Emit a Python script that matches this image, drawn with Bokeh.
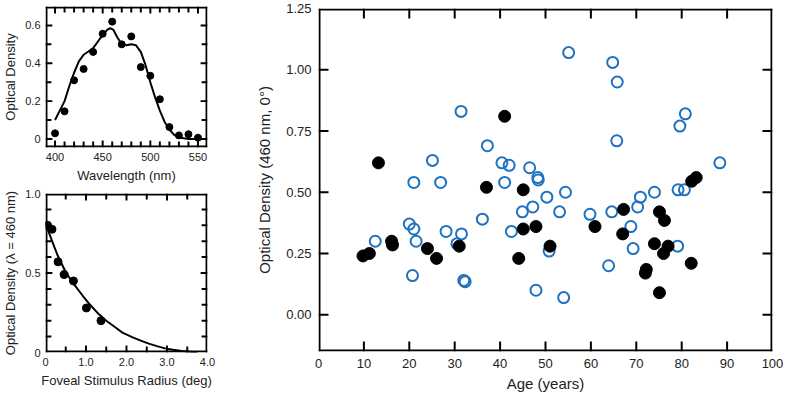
from bokeh.plotting import figure
from bokeh.layouts import row, column
from bokeh.models import FixedTicker, NumeralTickFormatter, Range1d
from bokeh.embed import file_html
from bokeh.resources import INLINE

# ---------------- data ----------------
# Panel A: spectral absorption
wl_nm = [400, 410, 420, 430, 440, 450, 460, 470, 480, 490, 500, 510, 520, 530, 540, 550]
wl_od = [0.03, 0.146, 0.31, 0.37, 0.46, 0.556, 0.62, 0.50, 0.542, 0.38, 0.334, 0.21, 0.063, 0.019, 0.025, 0.007]
fit_nm = [400, 405, 410, 415, 420, 425, 430, 435, 440, 445, 450, 455, 458, 461, 465, 470, 475, 480, 485, 490, 495, 500, 505, 510, 515, 520, 525, 530, 540, 550]
fit_od = [0.10, 0.15, 0.20, 0.28, 0.35, 0.41, 0.445, 0.462, 0.48, 0.515, 0.55, 0.578, 0.585, 0.578, 0.54, 0.50, 0.495, 0.50, 0.495, 0.46, 0.39, 0.30, 0.22, 0.15, 0.09, 0.05, 0.022, 0.008, 0.0, 0.0]

# Panel B: spatial profile
rad_deg = [0.05, 0.16, 0.31, 0.46, 0.69, 1.01, 1.37]
rad_od = [0.80, 0.775, 0.57, 0.49, 0.45, 0.28, 0.20]
rfit_deg = [0.0, 0.09, 0.18, 0.3, 0.51, 0.7, 0.91, 1.1, 1.32, 1.5, 1.73, 1.9, 2.14, 2.35, 2.55, 2.75, 2.95, 3.15, 3.36, 3.75]
rfit_od = [0.82, 0.75, 0.69, 0.61, 0.50, 0.43, 0.36, 0.30, 0.24, 0.20, 0.157, 0.125, 0.097, 0.075, 0.056, 0.04, 0.026, 0.017, 0.01, 0.0]

# Panel C: MPOD vs age
open_age = [12.5, 20.0, 21.0, 21.5, 20.7, 21.0, 25.1, 26.9, 28.1, 30.5, 31.5, 32.0, 32.3, 31.4,
            36.1, 37.2, 40.4, 41.0, 42.0, 42.5, 44.9, 46.5, 47.2, 48.3, 48.4, 47.9, 50.3, 50.8,
            53.1, 54.4, 54.0, 55.1, 59.8, 63.9, 64.6, 64.8, 65.8, 65.7, 68.8, 69.3, 70.3, 70.9,
            74.0, 79.1, 79.2, 80.6, 79.6, 80.8, 88.4]
open_od = [0.30, 0.37, 0.35, 0.30, 0.16, 0.54, 0.63, 0.54, 0.34, 0.29, 0.33, 0.14, 0.135, 0.83,
           0.39, 0.69, 0.62, 0.54, 0.61, 0.34, 0.42, 0.60, 0.44, 0.56, 0.55, 0.10, 0.48, 0.26,
           0.42, 0.50, 0.07, 1.07, 0.41, 0.20, 0.42, 1.03, 0.95, 0.71, 0.36, 0.27, 0.44, 0.48,
           0.50, 0.28, 0.51, 0.51, 0.77, 0.82, 0.62]
fill_age = [9.8, 11.2, 13.2, 16.1, 16.3, 24.0, 26.0, 31.0, 37.0, 41.0, 44.1, 45.1, 45.1, 47.9,
            51.0, 60.9, 67.0, 67.2, 72.0, 72.2, 74.0, 75.1, 75.1, 76.2, 76.0, 77.0, 82.1, 82.2, 83.2]
fill_od = [0.24, 0.25, 0.62, 0.30, 0.285, 0.27, 0.23, 0.28, 0.52, 0.81, 0.23, 0.51, 0.35, 0.36,
           0.28, 0.36, 0.33, 0.43, 0.17, 0.185, 0.29, 0.42, 0.09, 0.385, 0.25, 0.28, 0.21, 0.545, 0.56]

a_xticks = [400, 450, 500, 550]
a_xminor = [410, 420, 430, 440, 460, 470, 480, 490, 510, 520, 530, 540]
a_yticks = [0, 0.2, 0.4, 0.6]
a_yminor = [0.1, 0.3, 0.5, 0.7]
b_xticks = [0, 1, 2, 3, 4]
b_xlabels = {0: "0", 1: "1.0", 2: "2.0", 3: "3.0", 4: "4.0"}
b_xminor = [0.5, 1.5, 2.5, 3.5]
b_yticks = [0, 0.5, 1]
b_ylabels = {0: "0", 1: "1.0"}
b_yminor = [0.1, 0.2, 0.3, 0.4, 0.6, 0.7, 0.8, 0.9]
c_xticks = [0, 10, 20, 30, 40, 50, 60, 70, 80, 90, 100]
c_yticks = [0, 0.25, 0.5, 0.75, 1.0, 1.25]

FONT = "Liberation Sans"
TXT = "#222222"
BLUE = "#1f72bf"


def style(ax, tick_fs, label_fs):
    ax.axis_line_color = None
    ax.major_tick_line_color = None
    ax.minor_tick_line_color = None
    ax.major_tick_in = 0
    ax.major_tick_out = 0
    ax.minor_tick_in = 0
    ax.minor_tick_out = 0
    ax.major_label_text_font = FONT
    ax.major_label_text_font_size = f"{tick_fs}px"
    ax.major_label_text_color = TXT
    ax.axis_label_text_font = FONT
    ax.axis_label_text_font_style = "normal"
    ax.axis_label_text_color = TXT
    ax.axis_label_text_font_size = f"{label_fs}px"


def make_fig(w, h, xr, yr, bl, br, bt, bb):
    p = figure(width=w, height=h, x_range=Range1d(*xr), y_range=Range1d(*yr),
               output_backend="svg", toolbar_location=None,
               min_border_left=bl, min_border_right=br, min_border_top=bt, min_border_bottom=bb)
    p.xgrid.visible = False
    p.ygrid.visible = False
    p.outline_line_color = None
    return p, w - bl - br, h - bt - bb


def draw_frame(p, xr, yr, fw, fh, xmaj, xmin, ymaj, ymin, lmaj, lmin):
    """Frame box and inward ticks on all four sides, drawn as thin filled quads."""
    x0, x1 = xr
    y0, y1 = yr
    dx = (x1 - x0) / fw
    dy = (y1 - y0) / fh
    L, R, B, T = [], [], [], []
    # box edges, 2 px thick, just inside the frame
    L += [x0, x1 - 2 * dx, x0, x0]
    R += [x0 + 2 * dx, x1, x1, x1]
    B += [y0, y0, y0, y1 - 2 * dy]
    T += [y1, y1, y0 + 2 * dy, y1]
    for ticks, ln in ((xmaj, lmaj), (xmin, lmin)):
        for t in ticks:
            if x0 < t < x1:
                L += [t - dx, t - dx]
                R += [t + dx, t + dx]
                B += [y0, y1 - ln * dy]
                T += [y0 + ln * dy, y1]
    for ticks, ln in ((ymaj, lmaj), (ymin, lmin)):
        for t in ticks:
            if y0 < t < y1:
                L += [x0, x1 - ln * dx]
                R += [x0 + ln * dx, x1]
                B += [t - dy, t - dy]
                T += [t + dy, t + dy]
    p.quad(left=L, right=R, bottom=B, top=T, fill_color="black", line_color=None)


# ---------- Panel A ----------
A_XR, A_YR = (390, 560), (-0.045, 0.70)
p1, fw1, fh1 = make_fig(226, 185, A_XR, A_YR, 42, 19, 6, 36)
p1.xaxis.ticker = FixedTicker(ticks=a_xticks, minor_ticks=[])
p1.yaxis.ticker = FixedTicker(ticks=a_yticks, minor_ticks=[])
p1.xaxis.axis_label = "Wavelength (nm)"
p1.yaxis.axis_label = "Optical Density"
for ax in p1.xaxis + p1.yaxis:
    style(ax, 11, 13)
    ax.major_label_standoff = 5
    ax.axis_label_standoff = 4
draw_frame(p1, A_XR, A_YR, fw1, fh1, a_xticks, a_xminor, a_yticks, a_yminor, 7, 6)
p1.line(fit_nm, fit_od, line_color="black", line_width=2)
p1.scatter(wl_nm, wl_od, size=7, fill_color="black", line_color="black")

# ---------- Panel B ----------
B_XR, B_YR = (0, 4.0), (0, 1.0)
p2, fw2, fh2 = make_fig(226, 209, B_XR, B_YR, 42, 19, 8, 42)
p2.xaxis.ticker = FixedTicker(ticks=b_xticks, minor_ticks=[])
p2.yaxis.ticker = FixedTicker(ticks=b_yticks, minor_ticks=[])
p2.xaxis.major_label_overrides = b_xlabels
p2.yaxis.major_label_overrides = b_ylabels
p2.xaxis.axis_label = "Foveal Stimulus Radius (deg)"
p2.yaxis.axis_label = "Optical Density (\u03bb = 460 nm)"
for ax in p2.xaxis + p2.yaxis:
    style(ax, 11, 13)
    ax.major_label_standoff = 5
    ax.axis_label_standoff = 4
draw_frame(p2, B_XR, B_YR, fw2, fh2, b_xticks, b_xminor, b_yticks, b_yminor, 7, 6)
p2.line(rfit_deg, rfit_od, line_color="black", line_width=2)
p2.scatter(rad_deg, rad_od, size=8, fill_color="black", line_color="black")

# ---------- Panel C ----------
C_XR, C_YR = (0, 100), (-0.15, 1.25)
p3, fw3, fh3 = make_fig(558, 394, C_XR, C_YR, 92, 12, 8, 42)
p3.xaxis.ticker = FixedTicker(ticks=c_xticks, minor_ticks=[])
p3.yaxis.ticker = FixedTicker(ticks=c_yticks, minor_ticks=[])
p3.yaxis.formatter = NumeralTickFormatter(format="0.00")
p3.xaxis.axis_label = "Age (years)"
p3.yaxis.axis_label = "Optical Density (460 nm, 0\u00b0)"
for ax in p3.xaxis + p3.yaxis:
    style(ax, 13, 15)
    ax.major_label_standoff = 7
p3.xaxis.axis_label_standoff = 4
p3.yaxis.axis_label_standoff = 10
draw_frame(p3, C_XR, C_YR, fw3, fh3, c_xticks, [], c_yticks, [], 10, 0)
p3.scatter(open_age, open_od, size=11, fill_color=None, line_color=BLUE, line_width=2)
p3.scatter(fill_age, fill_od, size=12, fill_color="black", line_color="black")

layout = row(column(p1, p2, spacing=0), p3, spacing=0)
open("out.html", "w").write(file_html(layout, INLINE))
